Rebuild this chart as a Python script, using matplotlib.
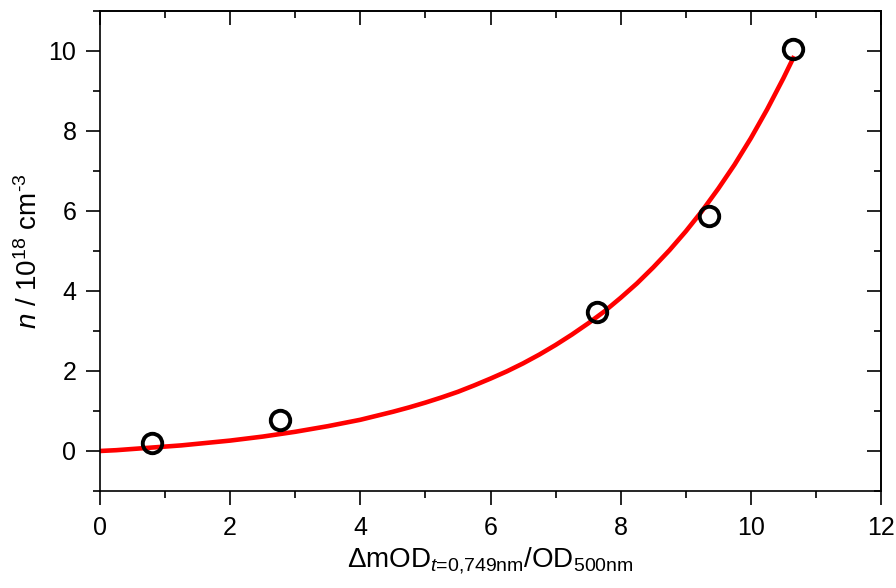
import numpy as np
import matplotlib
matplotlib.use('Agg')
import matplotlib.pyplot as plt
from matplotlib.ticker import MultipleLocator

plt.rcParams['font.family'] = ['Liberation Sans', 'DejaVu Sans']
plt.rcParams['mathtext.fontset'] = 'custom'
plt.rcParams['mathtext.rm'] = 'Liberation Sans'
plt.rcParams['mathtext.it'] = 'Liberation Sans:italic'

# measured points
x_meas = [0.80, 2.77, 7.63, 9.35, 10.65]
n_meas = [0.20, 0.78, 3.48, 5.88, 10.05]

# fit curve
x_fit = [0.0, 0.25, 0.5, 0.75, 1.0, 1.25, 1.5, 1.75, 2.0, 2.25, 2.5, 2.75,
         3.0, 3.25, 3.5, 3.75, 4.0, 4.25, 4.5, 4.75, 5.0, 5.25, 5.5, 5.75,
         6.0, 6.25, 6.5, 6.75, 7.0, 7.25, 7.5, 7.75, 8.0, 8.25, 8.5, 8.75,
         9.0, 9.25, 9.5, 9.75, 10.0, 10.25, 10.5, 10.65]
n_fit = [0.00, 0.02, 0.05, 0.08, 0.11, 0.14, 0.18, 0.22, 0.26, 0.31, 0.36, 0.42,
         0.48, 0.55, 0.62, 0.70, 0.78, 0.88, 0.98, 1.09, 1.21, 1.34, 1.48, 1.64,
         1.81, 1.99, 2.19, 2.41, 2.65, 2.91, 3.19, 3.49, 3.83, 4.19, 4.59, 5.02,
         5.49, 6.00, 6.56, 7.16, 7.82, 8.54, 9.32, 9.82]

fig = plt.figure(figsize=(8.96, 5.88), dpi=100)
ax = fig.add_axes([0.1116, 0.165, 0.8717, 0.8163])

ax.plot(x_fit, n_fit, color='#ff0000', lw=3.3, zorder=2)
ax.plot(x_meas, n_meas, 'o', ms=14, mfc='none', mec='black', mew=2.8, zorder=3)

ax.set_xlim(0, 12)
ax.set_ylim(-1, 11)
ax.xaxis.set_major_locator(MultipleLocator(2))
ax.xaxis.set_minor_locator(MultipleLocator(1))
ax.yaxis.set_major_locator(MultipleLocator(2))
ax.yaxis.set_minor_locator(MultipleLocator(1))

for s in ax.spines.values():
    s.set_linewidth(1.2)

ax.tick_params(which='major', direction='out', length=10, width=1.2,
               labelsize=18, pad=7)
ax.tick_params(which='minor', direction='out', length=5, width=1.2)
ax.tick_params(axis='x', which='major', pad=8)

# top and right axes with inward ticks
top = ax.secondary_xaxis('top')
top.xaxis.set_major_locator(MultipleLocator(2))
top.xaxis.set_minor_locator(MultipleLocator(1))
top.tick_params(which='major', direction='in', length=10, width=1.2, labeltop=False)
top.tick_params(which='minor', direction='in', length=5, width=1.2)
top.spines['top'].set_linewidth(1.2)

right = ax.secondary_yaxis('right')
right.yaxis.set_major_locator(MultipleLocator(2))
right.yaxis.set_minor_locator(MultipleLocator(1))
right.tick_params(which='major', direction='in', length=10, width=1.2, labelright=False)
right.tick_params(which='minor', direction='in', length=5, width=1.2)
right.spines['right'].set_linewidth(1.2)

ax.set_xlabel('Δ' + r'mOD$_{\mathit{t}\text{=0,749nm}}$/OD$_{\text{500nm}}$',
              fontsize=20, labelpad=4)
ax.set_ylabel(r'$\mathit{n}$ / 10$^{18}$ cm$^{\text{-3}}$', fontsize=20, labelpad=4)

fig.savefig('out.png', dpi=100)
